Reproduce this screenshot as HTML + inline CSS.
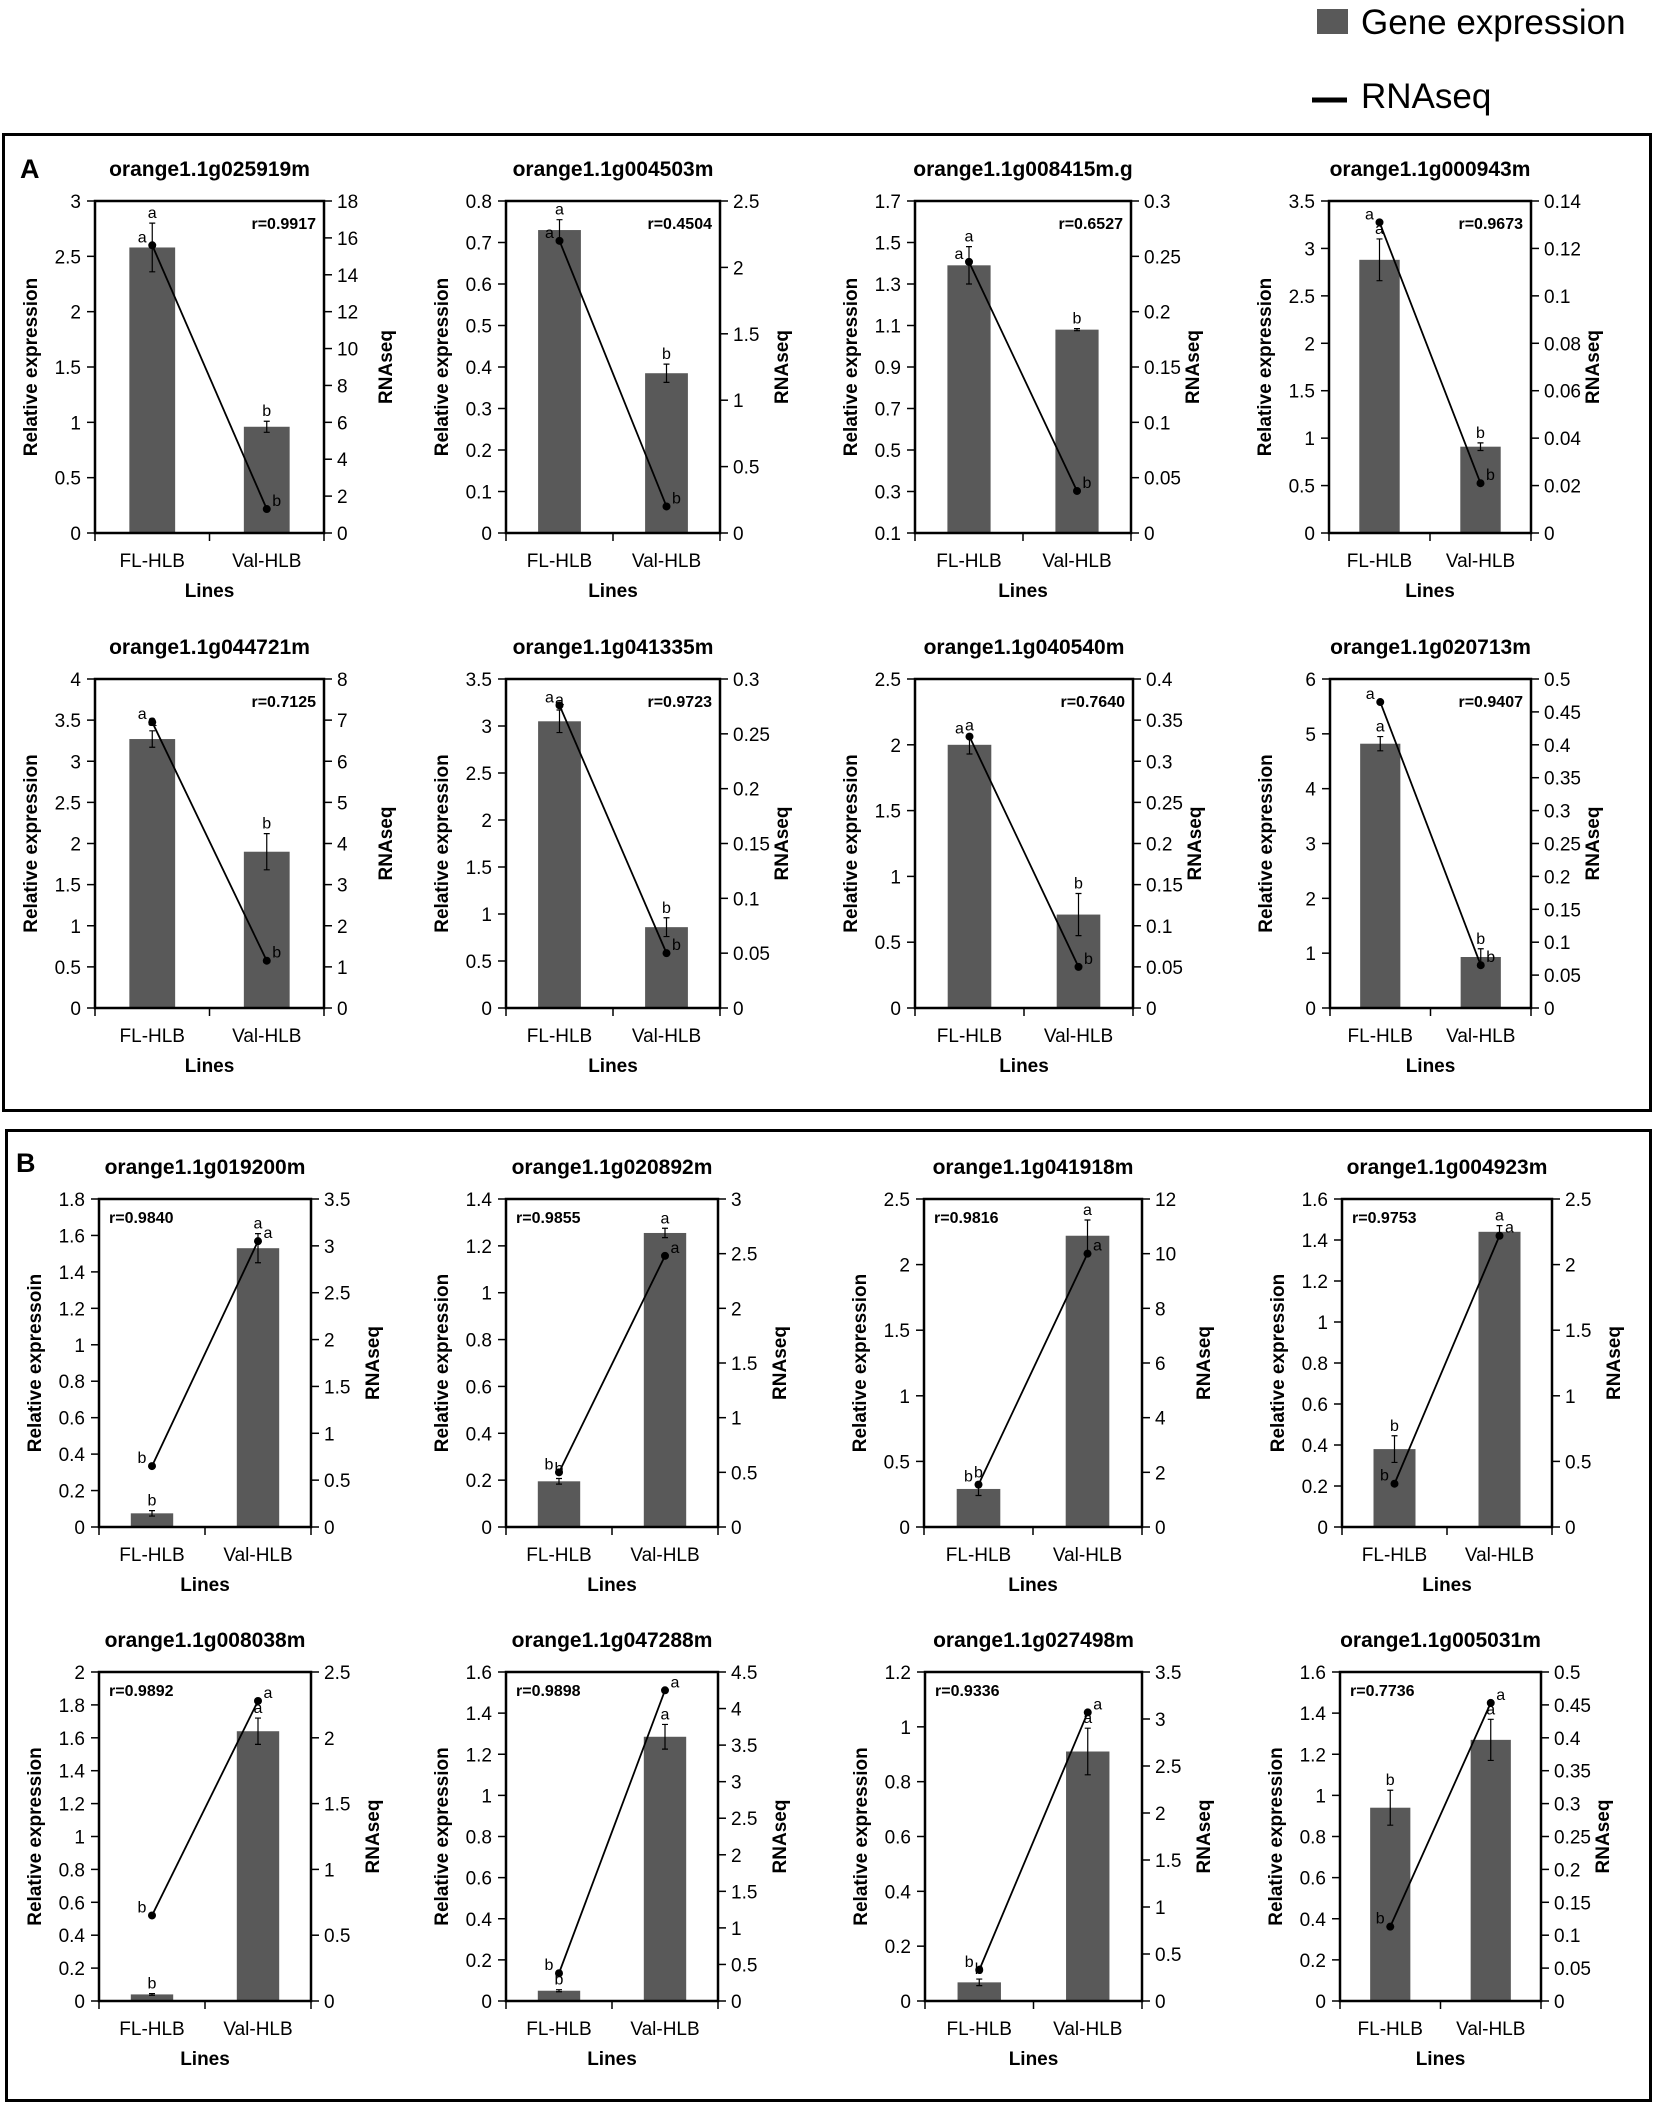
<!DOCTYPE html>
<html><head><meta charset="utf-8"><style>
html,body{margin:0;padding:0;background:#fff;}
svg{display:block;font-family:"Liberation Sans",sans-serif;}
</style></head><body>
<svg id="s" width="1653" height="2104" viewBox="0 0 1653 2104" xmlns="http://www.w3.org/2000/svg">
<rect x="0" y="0" width="1653" height="2104" fill="#fff"/>
<rect x="1317" y="9" width="31" height="25" fill="#595959"/>
<text x="1361" y="34" font-size="35" fill="#000">Gene expression</text>
<line x1="1312" y1="100" x2="1347" y2="100" stroke="#000" stroke-width="5"/>
<text x="1361" y="108" font-size="35" fill="#000">RNAseq</text>
<rect x="3.5" y="134.5" width="1647" height="976" fill="none" stroke="#000" stroke-width="3"/>
<rect x="6.5" y="1130.5" width="1644" height="970" fill="none" stroke="#000" stroke-width="3"/>
<text x="20" y="178" font-size="27" font-weight="bold">A</text>
<text x="16" y="1172" font-size="27" font-weight="bold">B</text>
<g id="charts"></g>
</svg>
<script>
var C=[
// A row1
{t:"orange1.1g025919m",x:[95,324],y:[201,533],L:[0,3,0.5],R:[0,18,2],b:[2.58,0.96],e:[0.22,0.05],l:[15.6,1.3],r:"0.9917",pos:"R"},
{t:"orange1.1g004503m",x:[506,720],y:[201,533],L:[0,0.8,0.1],R:[0,2.5,0.5],b:[0.73,0.385],e:[0.025,0.022],l:[2.2,0.2],r:"0.4504",pos:"R"},
{t:"orange1.1g008415m.g",x:[915,1131],y:[201,533],L:[0.1,1.7,0.2],R:[0,0.3,0.05],b:[1.39,1.08],e:[0.09,0.005],l:[0.245,0.038],r:"0.6527",pos:"R"},
{t:"orange1.1g000943m",x:[1329,1531],y:[201,533],L:[0,3.5,0.5],R:[0,0.14,0.02],b:[2.88,0.91],e:[0.22,0.04],l:[0.131,0.021],r:"0.9673",pos:"R"},
// A row2
{t:"orange1.1g044721m",x:[95,324],y:[679,1008],L:[0,4,0.5],R:[0,8,1],b:[3.27,1.9],e:[0.1,0.22],l:[6.95,1.15],r:"0.7125",pos:"R"},
{t:"orange1.1g041335m",x:[506,720],y:[679,1008],L:[0,3.5,0.5],R:[0,0.3,0.05],b:[3.05,0.86],e:[0.12,0.1],l:[0.276,0.05],r:"0.9723",pos:"R"},
{t:"orange1.1g040540m",x:[915,1133],y:[679,1008],L:[0,2.5,0.5],R:[0,0.4,0.05],b:[2.0,0.71],e:[0.07,0.16],l:[0.33,0.05],r:"0.7640",pos:"R"},
{t:"orange1.1g020713m",x:[1330,1531],y:[679,1008],L:[0,6,1],R:[0,0.5,0.05],b:[4.82,0.93],e:[0.13,0.15],l:[0.465,0.065],r:"0.9407",pos:"R"},
// B row1
{t:"orange1.1g019200m",x:[99,311],y:[1199,1527],L:[0,1.8,0.2],R:[0,3.5,0.5],b:[0.075,1.53],e:[0.015,0.08],l:[0.65,3.05],r:"0.9840",pos:"L",yl:"Relative expressoin"},
{t:"orange1.1g020892m",x:[506,718],y:[1199,1527],L:[0,1.4,0.2],R:[0,3,0.5],b:[0.195,1.255],e:[0.012,0.02],l:[0.5,2.48],r:"0.9855",pos:"L"},
{t:"orange1.1g041918m",x:[924,1142],y:[1199,1527],L:[0,2.5,0.5],R:[0,12,2],b:[0.29,2.22],e:[0.05,0.12],l:[1.55,10.0],r:"0.9816",pos:"L"},
{t:"orange1.1g004923m",x:[1342,1552],y:[1199,1527],L:[0,1.6,0.2],R:[0,2.5,0.5],b:[0.38,1.44],e:[0.065,0.03],l:[0.33,2.22],r:"0.9753",pos:"L"},
// B row2
{t:"orange1.1g008038m",x:[99,311],y:[1672,2001],L:[0,2,0.2],R:[0,2.5,0.5],b:[0.04,1.64],e:[0.005,0.08],l:[0.65,2.28],r:"0.9892",pos:"L"},
{t:"orange1.1g047288m",x:[506,718],y:[1672,2001],L:[0,1.6,0.2],R:[0,4.5,0.5],b:[0.05,1.285],e:[0.005,0.06],l:[0.38,4.25],r:"0.9898",pos:"L"},
{t:"orange1.1g027498m",x:[925,1142],y:[1672,2001],L:[0,1.2,0.2],R:[0,3.5,0.5],b:[0.068,0.91],e:[0.012,0.085],l:[0.33,3.07],r:"0.9336",pos:"L"},
{t:"orange1.1g005031m",x:[1340,1541],y:[1672,2001],L:[0,1.6,0.2],R:[0,0.5,0.05],b:[0.94,1.27],e:[0.085,0.1],l:[0.113,0.453],r:"0.7736",pos:"L"}
];
function fmt(v){var s=(Math.round(v*1000)/1000).toString();return s;}
var h="";
C.forEach(function(c,i){
 var x0=c.x[0],x1=c.x[1],yt=c.y[0],yb=c.y[1],w=x1-x0,H=yb-yt;
 var ly=function(v){return yb-(v-c.L[0])/(c.L[1]-c.L[0])*H;};
 var ry=function(v){return yb-(v-c.R[0])/(c.R[1]-c.R[0])*H;};
 var cx=[x0+w*0.25,x0+w*0.75],bw=w*0.2;
 var lo=i<8;
 h+='<text x="'+(x0+w/2)+'" y="'+(yt-25)+'" font-size="21" font-weight="bold" text-anchor="middle">'+c.t+'</text>';
 // bars
 for(var k=0;k<2;k++){
  var top=ly(c.b[k]);
  h+='<rect x="'+(cx[k]-bw/2)+'" y="'+top+'" width="'+bw+'" height="'+(yb-top)+'" fill="#595959"/>';
  var et=ly(c.b[k]+c.e[k]),eb=ly(c.b[k]-c.e[k]);
  h+='<path d="M'+cx[k]+' '+et+'V'+eb+'M'+(cx[k]-3)+' '+et+'h6M'+(cx[k]-3)+' '+eb+'h6" stroke="#000" stroke-width="1.2" fill="none"/>';
 }
 // frame
 h+='<rect x="'+x0+'" y="'+yt+'" width="'+w+'" height="'+H+'" fill="none" stroke="#000" stroke-width="2.5"/>';
 // left ticks
 var n=Math.round((c.L[1]-c.L[0])/c.L[2]);
 for(var j=0;j<=n;j++){var v=c.L[0]+j*c.L[2],yy=ly(v);
  h+='<line x1="'+(x0-8)+'" y1="'+yy+'" x2="'+x0+'" y2="'+yy+'" stroke="#000" stroke-width="1.5"/>';
  h+='<text x="'+(x0-14)+'" y="'+(yy+7)+'" font-size="19" text-anchor="end">'+fmt(v)+'</text>';}
 n=Math.round((c.R[1]-c.R[0])/c.R[2]);
 for(var j=0;j<=n;j++){var v=c.R[0]+j*c.R[2],yy=ry(v);
  h+='<line x1="'+x1+'" y1="'+yy+'" x2="'+(x1+8)+'" y2="'+yy+'" stroke="#000" stroke-width="1.5"/>';
  h+='<text x="'+(x1+13)+'" y="'+(yy+7)+'" font-size="19">'+fmt(v)+'</text>';}
 [x0,x0+w/2,x1].forEach(function(xx){h+='<line x1="'+xx+'" y1="'+yb+'" x2="'+xx+'" y2="'+(yb+8)+'" stroke="#000" stroke-width="1.5"/>';});
 h+='<text x="'+cx[0]+'" y="'+(yb+34)+'" font-size="19" text-anchor="middle">FL-HLB</text>';
 h+='<text x="'+cx[1]+'" y="'+(yb+34)+'" font-size="19" text-anchor="middle">Val-HLB</text>';
 h+='<text x="'+(x0+w/2)+'" y="'+(yb+64)+'" font-size="19" font-weight="bold" text-anchor="middle">Lines</text>';
 var ym=(yt+yb)/2;
 h+='<text transform="translate('+(x0-58)+','+ym+') rotate(-90)" font-size="19" font-weight="bold" text-anchor="middle">'+(c.yl||"Relative expression")+'</text>';
 h+='<text transform="translate('+(x1+68)+','+ym+') rotate(-90)" font-size="19" font-weight="bold" text-anchor="middle">RNAseq</text>';
 if(c.pos=="R") h+='<text x="'+(x1-8)+'" y="'+(yt+28)+'" font-size="16" font-weight="bold" text-anchor="end">r='+c.r+'</text>';
 else h+='<text x="'+(x0+10)+'" y="'+(yt+24)+'" font-size="16" font-weight="bold">r='+c.r+'</text>';
 // line
 var p0=ry(c.l[0]),p1=ry(c.l[1]);
 h+='<line x1="'+cx[0]+'" y1="'+p0+'" x2="'+cx[1]+'" y2="'+p1+'" stroke="#000" stroke-width="1.8"/>';
 h+='<circle cx="'+cx[0]+'" cy="'+p0+'" r="4" fill="#000"/><circle cx="'+cx[1]+'" cy="'+p1+'" r="4" fill="#000"/>';
 // letters
 var L1=lo?["a","b"]:["b","a"];
 for(var k=0;k<2;k++){
  var et=ly(c.b[k]+c.e[k]);
  h+='<text x="'+cx[k]+'" y="'+(et-5)+'" font-size="16" text-anchor="middle">'+L1[k]+'</text>';
  var py=k==0?p0:p1;
  var dx=k==0?-10:10;
  h+='<text x="'+(cx[k]+dx)+'" y="'+(py-3)+'" font-size="16" text-anchor="middle">'+L1[k]+'</text>';
 }
});
document.getElementById("charts").innerHTML=h;
</script>
</body></html>
